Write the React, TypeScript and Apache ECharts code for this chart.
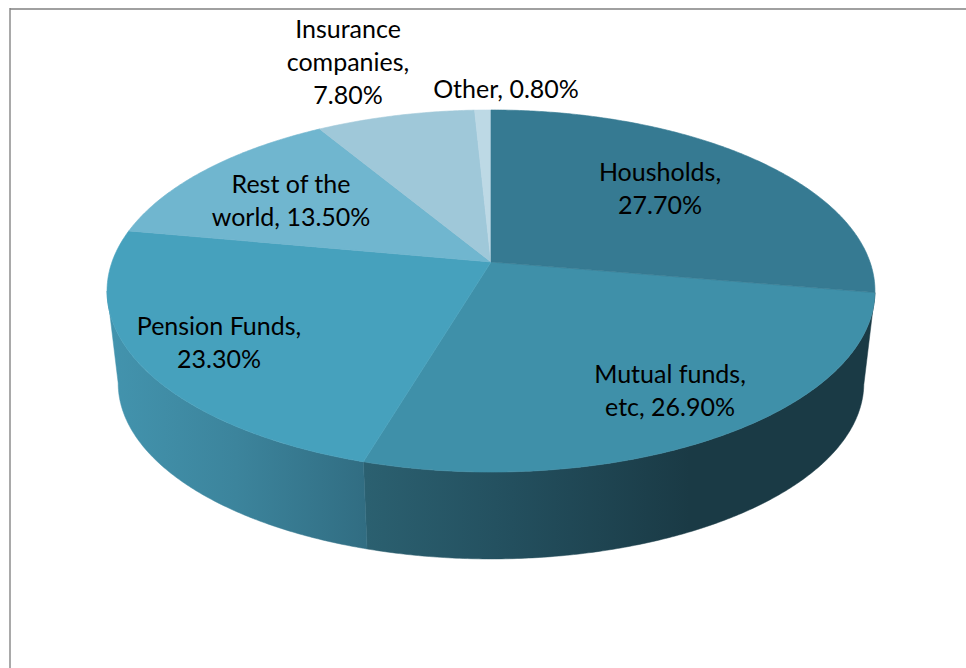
import React, { useEffect, useRef } from "react";
import * as echarts from "echarts";

const categories = ["Housholds", "Mutual funds, etc", "Pension Funds", "Rest of the world", "Insurance companies", "Other"];
const values = [27.7, 26.9, 23.3, 13.5, 7.8, 0.8];
const sliceLabels = [
  "Housholds,\n27.70%",
  "Mutual funds,\netc, 26.90%",
  "Pension Funds,\n23.30%",
  "Rest of the\nworld, 13.50%",
  "Insurance\ncompanies,\n7.80%",
  "Other, 0.80%",
];
const topColors = ["#367a92", "#3f90a9", "#46a1bd", "#70b6cf", "#9fc8d9", "#bdd9e5"];
const labelCenters = [
  [660, 187],
  [670, 389],
  [219, 341],
  [291, 199],
  [348, 61],
  [506, 88],
];

const CX = 491;
const APEX_Y = 262;
const RADIUS = 379;
const TILT = 0.1602;
const DEPTH_B = 176.4;
const BOTTOM_SCALE = 0.971;
const BOTTOM_Y = 355;
const SIDE_FROM = 99.2;
const SIDE_TO = 260.8;
const total = values.reduce((a, b) => a + b, 0);

const topPoint = (deg: number) => {
  const t = (deg * Math.PI) / 180;
  const u = Math.sin(t);
  const v = -Math.cos(t);
  const d = 1 - TILT * v;
  return [CX + (RADIUS * u) / d, APEX_Y + (DEPTH_B * v) / d];
};
const bottomPoint = (deg: number) => {
  const p = topPoint(deg);
  return [CX + BOTTOM_SCALE * (p[0] - CX), BOTTOM_Y + BOTTOM_SCALE * (p[1] - APEX_Y)];
};
const arc = (fn: (d: number) => number[], a: number, b: number) => {
  const n = Math.max(2, Math.ceil(Math.abs(b - a) * 2));
  const pts: number[][] = [];
  for (let i = 0; i <= n; i++) pts.push(fn(a + ((b - a) * i) / n));
  return pts;
};

const sideGradients: Record<number, any> = {
  1: new echarts.graphic.LinearGradient(366, 0, 690, 0, [
    { offset: 0, color: "#2b6070" },
    { offset: 0.45, color: "#234f5e" },
    { offset: 1, color: "#1a3a45" },
  ], true),
  2: new echarts.graphic.LinearGradient(107, 0, 366, 0, [
    { offset: 0, color: "#4394ae" },
    { offset: 0.5, color: "#3c849c" },
    { offset: 1, color: "#316d82" },
  ], true),
};

const renderSlice = (params: any, api: any) => {
  const idx = params.dataIndex;
  let before = 0;
  for (let i = 0; i < idx; i++) before += values[i];
  const a0 = (before / total) * 360;
  const a1 = ((before + api.value(0)) / total) * 360;
  const children: any[] = [];
  const sa = Math.max(a0, SIDE_FROM);
  const sb = Math.min(a1, SIDE_TO);
  if (sb > sa && sideGradients[idx]) {
    const pts = [...arc(topPoint, sa, sb), ...arc(bottomPoint, sb, sa)];
    children.push({
      type: "polygon",
      shape: { points: pts },
      style: { fill: sideGradients[idx], stroke: sideGradients[idx], lineWidth: 0.5 },
      z2: 1,
    });
  }
  children.push({
    type: "polygon",
    shape: { points: [[CX, APEX_Y], ...arc(topPoint, a0, a1)] },
    style: { fill: topColors[idx], stroke: topColors[idx], lineWidth: 0.6 },
    z2: 2 + (idx === 0 ? 6 : idx),
  });
  return { type: "group", children };
};

const renderLabel = (params: any) => {
  const idx = params.dataIndex;
  return {
    type: "text",
    x: labelCenters[idx][0],
    y: labelCenters[idx][1],
    z2: 50,
    style: {
      text: sliceLabels[idx],
      fill: "#000000",
      font: '25px Lato, "Noto Sans", sans-serif',
      lineHeight: 33,
      align: "center",
      verticalAlign: "middle",
    },
  };
};

export default function App() {
  const ref = useRef<HTMLDivElement>(null);
  useEffect(() => {
    document.body.style.margin = "0";
    const chart = echarts.init(ref.current!, null, { renderer: "svg" });
    chart.setOption({
      animation: false,
      backgroundColor: "#ffffff",
      graphic: [
        { type: "line", shape: { x1: 10, y1: 8, x2: 10, y2: 668 }, style: { stroke: "#8c8c8c", lineWidth: 1.5 } },
        { type: "line", shape: { x1: 10, y1: 9, x2: 966, y2: 9 }, style: { stroke: "#808080", lineWidth: 1.5 } },
      ],
      series: [
        {
          type: "custom",
          name: "Side and top",
          coordinateSystem: "none",
          silent: true,
          data: values.map((v, i) => ({ name: categories[i], value: [v] })),
          renderItem: renderSlice,
          z: 2,
        },
        {
          type: "custom",
          name: "Labels",
          coordinateSystem: "none",
          silent: true,
          data: values.map((v, i) => ({ name: categories[i], value: [v] })),
          renderItem: renderLabel,
          z: 3,
        },
      ],
    });
    return () => chart.dispose();
  }, []);
  return <div ref={ref} style={{ position: "absolute", left: 0, top: 0, width: 966, height: 668 }} />;
}
